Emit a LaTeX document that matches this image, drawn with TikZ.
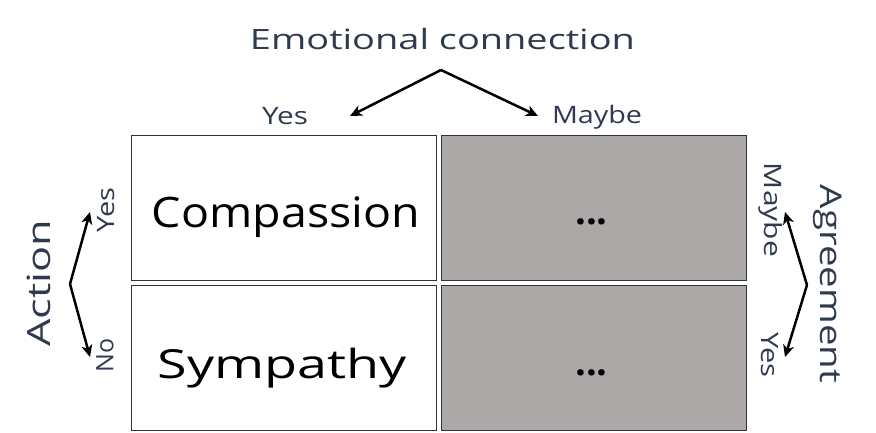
\documentclass[tikz,border=0pt]{standalone}
\usepackage{fontspec}
\setmainfont{Open Sans}
\usepackage{graphicx}
\usetikzlibrary{arrows.meta}
\definecolor{inkblue}{HTML}{2F3A4F}
\definecolor{cellgrey}{HTML}{ABA8A7}
\tikzstyle{cell} = [rectangle, draw=black!80, line width=0.8pt, minimum width=305pt, minimum height=145pt, inner sep=0pt]
\tikzstyle{yescell} = [cell, fill=white]
\tikzstyle{maybecell} = [cell, fill=cellgrey]
\tikzstyle{celltext} = [anchor=base, text=black, inner sep=0pt]
\tikzstyle{axis} = [text=inkblue, inner sep=0pt]
\tikzstyle{arrow} = [line width=2.5pt, -{Stealth[length=12pt, width=11pt, inset=3.5pt]}]
\newcommand{\fitw}[2]{\resizebox{#1}{\height}{#2}}

\begin{document}
\begin{tikzpicture}[x=1pt, y=-1pt, node distance=150pt]
\useasboundingbox (0,0) rectangle (876,433);

\node (comp) [yescell] at (283.5,208) {};
\node (symp) [yescell, below of=comp] {};
\node (compmaybe) [maybecell, right of=comp, node distance=310pt] {};
\node (sympmaybe) [maybecell, right of=symp, node distance=310pt] {};

\node (comptext) [celltext, font=\fontsize{42}{42}\selectfont] at ([xshift=2.5pt, yshift=-19pt]comp.center) {\fitw{268pt}{Compassion}};
\node (symptext) [celltext, font=\fontsize{40}{40}\selectfont] at ([xshift=-1pt, yshift=-20pt]symp.center) {\fitw{249pt}{Sympathy}};
\node (compdots) [celltext, font=\fontsize{38}{38}\selectfont\bfseries] at ([xshift=-2pt, yshift=-17pt]compmaybe.center) {...};
\node (sympdots) [celltext, font=\fontsize{38}{38}\selectfont\bfseries] at ([xshift=-2pt, yshift=-17pt]sympmaybe.center) {...};

\node (emotion) [axis, anchor=base, font=\fontsize{28}{28}\selectfont] at (442.5,50) {\fitw{385pt}{Emotional connection}};
\node (emoyes) [axis, anchor=base, font=\fontsize{24}{24}\selectfont] at (285,125) {\fitw{46pt}{Yes}};
\node (emomaybe) [axis, anchor=base, font=\fontsize{24}{24}\selectfont] at (597,124) {\fitw{90pt}{Maybe}};
\coordinate (emoapex) at (441,70);
\coordinate (emoyestip) at (350,116);
\coordinate (emomaybetip) at (538,116);

\node (action) [axis, rotate=90, font=\fontsize{32}{32}\selectfont] at (38.5,283) {\fitw{127pt}{Action}};
\node (actyes) [axis, rotate=90, font=\fontsize{24}{24}\selectfont] at (106,210) {\fitw{45pt}{Yes}};
\node (actno) [axis, rotate=90, font=\fontsize{24}{24}\selectfont] at (105,355) {\fitw{34pt}{No}};
\coordinate (actapex) at (70,284);
\coordinate (actyestip) at (90,212);
\coordinate (actnotip) at (90,357);

\node (agree) [axis, rotate=-90, font=\fontsize{30}{30}\selectfont] at (828,284) {\fitw{198pt}{Agreement}};
\node (agrmaybe) [axis, rotate=-90, font=\fontsize{24}{24}\selectfont] at (771,210) {\fitw{94pt}{Maybe}};
\node (agryes) [axis, rotate=-90, font=\fontsize{24}{24}\selectfont] at (770,355) {\fitw{45pt}{Yes}};
\coordinate (agrapex) at (807,285);
\coordinate (agrmaybetip) at (785,212);
\coordinate (agryestip) at (785,357);

\draw [arrow] (emoapex) -- (emoyestip);
\draw [arrow] (emoapex) -- (emomaybetip);
\draw [arrow] (actapex) -- (actyestip);
\draw [arrow] (actapex) -- (actnotip);
\draw [arrow] (agrapex) -- (agrmaybetip);
\draw [arrow] (agrapex) -- (agryestip);

\end{tikzpicture}
\end{document}
